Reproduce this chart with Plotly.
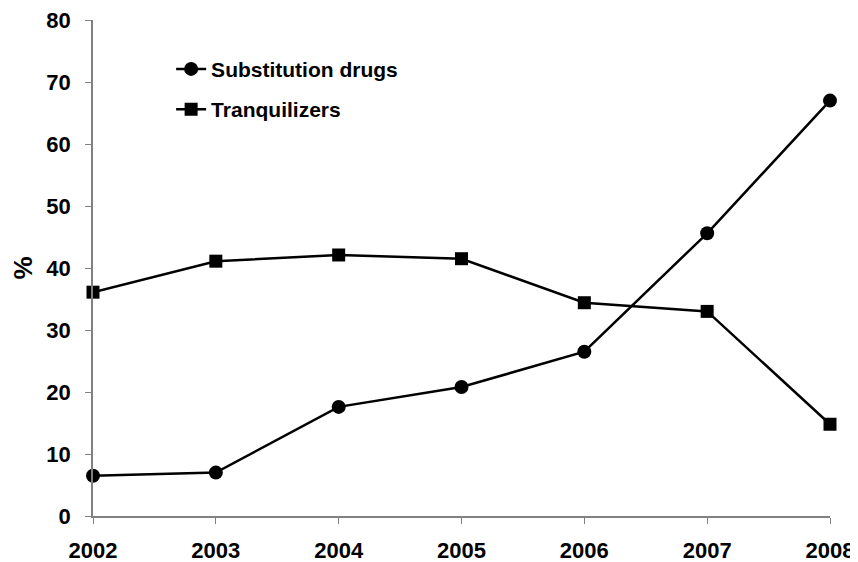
import plotly.graph_objects as go

years = [2002, 2003, 2004, 2005, 2006, 2007, 2008]
substitution = [6.5, 7.0, 17.6, 20.8, 26.5, 45.6, 67.0]
tranquilizers = [36.1, 41.1, 42.1, 41.5, 34.4, 33.0, 14.8]
y_ticks = [0, 10, 20, 30, 40, 50, 60, 70, 80]

FONT = dict(family="Liberation Sans, Arial, sans-serif", color="black", size=22)
AXIS_GREY = "#808080"

fig = go.Figure()
fig.add_trace(go.Scatter(
    x=years, y=substitution, name="<b>Substitution drugs</b>",
    mode="lines+markers", legendgroup="a",
    line=dict(color="black", width=2.5),
    marker=dict(symbol="circle", size=14, color="black"),
    cliponaxis=False,
))
fig.add_trace(go.Scatter(
    x=years, y=tranquilizers, name="<b>Tranquilizers</b>",
    mode="lines+markers", legendgroup="b",
    line=dict(color="black", width=2.5),
    marker=dict(symbol="square", size=13, color="black"),
    cliponaxis=False,
))

# page body adds an 8px offset, so the figure is 8px smaller on each side
fig.update_layout(
    width=850, height=554,
    paper_bgcolor="white", plot_bgcolor="white",
    font=FONT,
    margin=dict(l=85, r=28, t=12, b=46),
    legend=dict(x=0.106, y=0.942, xanchor="left", yanchor="top",
                bgcolor="rgba(0,0,0,0)", tracegroupgap=10,
                font=dict(size=21)),
    showlegend=True,
)
fig.update_xaxes(
    range=[2002, 2008], tickvals=years, ticktext=[f"<b>{y}</b>" for y in years],
    showline=True, linecolor=AXIS_GREY, linewidth=1.5,
    ticks="outside", ticklen=6, tickcolor=AXIS_GREY,
    showgrid=False, zeroline=False, ticklabelstandoff=8,
    automargin=False, ticklabeloverflow="allow",
)
fig.update_yaxes(
    range=[0, 80], tickvals=y_ticks, ticktext=[f"<b>{v}</b>" for v in y_ticks],
    showline=True, linecolor=AXIS_GREY, linewidth=1.5,
    ticks="outside", ticklen=6, tickcolor=AXIS_GREY,
    showgrid=False, zeroline=False, ticklabelstandoff=10,
    title=dict(text="<b>%</b>", standoff=16),
    automargin=False, ticklabeloverflow="allow",
)

fig.write_html("out.html")
